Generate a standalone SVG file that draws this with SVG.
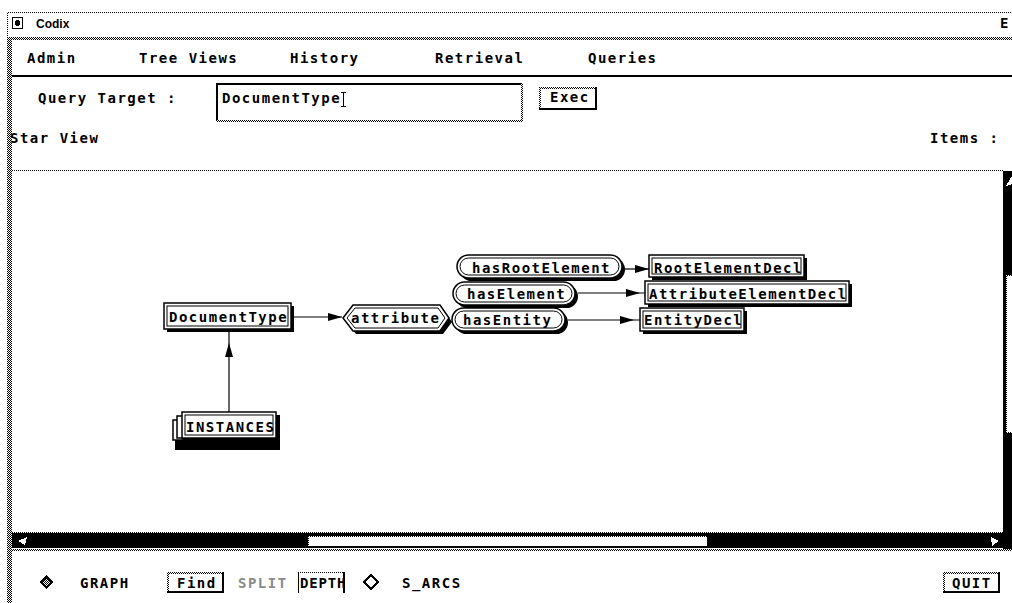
<svg xmlns="http://www.w3.org/2000/svg" width="1012" height="603" viewBox="0 0 1012 603">
<defs>
<pattern id="dit" width="2" height="2" patternUnits="userSpaceOnUse"><rect width="2" height="2" fill="#fff"/><rect width="1" height="1" fill="#000"/><rect x="1" y="1" width="1" height="1" fill="#000"/></pattern>
<marker id="arr" markerUnits="userSpaceOnUse" markerWidth="14" markerHeight="8" refX="14" refY="4" orient="auto"><path d="M0,0 L14,4 L0,8 z" fill="#000"/></marker>
<style>
.t{font-family:"DejaVu Sans Mono","Liberation Mono",monospace;font-weight:bold;font-size:14px;letter-spacing:1.5px;fill:#000}
.g{fill:#8a8a8a}
.d{fill:url(#dit)}
.k{fill:#000}
.box{fill:#fff;stroke:#000;stroke-width:1.5}
.in{fill:none;stroke:#000;stroke-width:1}
.sh{fill:#000}
.ln{fill:none;stroke:#000;stroke-width:1.2}
.ui{shape-rendering:crispEdges}
</style>
</defs>
<rect width="1012" height="603" fill="#fff"/>
<g id="window" class="ui">
<rect class="d" x="7" y="12" width="1005" height="1"/>
<rect class="d" x="7" y="12" width="1" height="25"/>
<rect class="d" x="7" y="37" width="1005" height="3"/>
<rect class="d" x="7" y="37" width="5" height="566"/>
<rect x="12.5" y="17.5" width="10" height="11" fill="#fff" stroke="#000"/>
<circle cx="17.5" cy="23" r="3" fill="#000"/>
<text x="36" y="28" style="font-family:'Liberation Sans',sans-serif;font-weight:bold;font-size:12px">Codix</text>
<text class="t" x="1000" y="28" style="letter-spacing:0">E</text>
<text class="t" x="27" y="63">Admin</text>
<text class="t" x="139" y="63">Tree Views</text>
<text class="t" x="290" y="63">History</text>
<text class="t" x="435" y="63">Retrieval</text>
<text class="t" x="588" y="63">Queries</text>
<rect class="k" x="12" y="75" width="1000" height="2"/>
<text class="t" x="38" y="103">Query Target :</text>
<rect class="k" x="216" y="83" width="307" height="2"/>
<rect class="k" x="216" y="83" width="2" height="39"/>
<rect class="d" x="521" y="83" width="2" height="39"/>
<rect class="d" x="216" y="120" width="307" height="2"/>
<text class="t" x="222" y="103">DocumentType</text>
<path d="M341,92 H346 M343.5,92 V106 M341,106 H346" stroke="#000" stroke-width="1" fill="none"/>
<rect class="d" x="539" y="87" width="58" height="2"/>
<rect class="d" x="539" y="87" width="2" height="23"/>
<rect class="k" x="595" y="87" width="2" height="23"/>
<rect class="k" x="539" y="108" width="58" height="2"/>
<text class="t" x="550" y="102">Exec</text>
<text class="t" x="10" y="143">Star View</text>
<text class="t" x="930" y="143">Items : </text>
<rect class="d" x="12" y="170" width="992" height="1"/>
<rect class="k" x="1003" y="171" width="9" height="378"/>
<rect x="1006" y="275" width="6" height="158" fill="#fff"/>
<rect class="d" x="1006" y="275" width="6" height="1"/>
<rect class="d" x="1006" y="275" width="1" height="158"/>
<rect class="d" x="1006" y="432" width="6" height="1"/>
<path d="M1006,186 L1012,176 L1012,184 z" fill="#fff"/>
<rect class="d" x="12" y="532" width="991" height="1"/>
<rect class="k" x="12" y="533" width="991" height="15"/>
<rect x="308" y="536" width="399" height="10" fill="#fff"/>
<rect class="d" x="308" y="536" width="399" height="1"/>
<rect class="d" x="308" y="536" width="1" height="10"/>
<path d="M18,541 L27,537 L25,545 z" fill="#fff"/>
<path d="M999,541 L991,537 L992,546 z" fill="#fff"/>
<rect class="d" x="12" y="549" width="1000" height="2"/>
<polygon points="46,575 53,582 46,589 39,582" fill="#000"/>
<polygon points="46,578 50,582 46,586 42,582" fill="url(#dit)"/>
<text class="t" x="80" y="588">GRAPH</text>
<rect class="d" x="167" y="572" width="57" height="2"/>
<rect class="d" x="167" y="572" width="2" height="21"/>
<rect class="k" x="222" y="572" width="2" height="21"/>
<rect class="k" x="167" y="591" width="57" height="2"/>
<text class="t" x="177" y="588">Find</text>
<text class="t g" x="238" y="588">SPLIT</text>
<rect class="d" x="298" y="572" width="46" height="1"/>
<rect class="k" x="298" y="572" width="1" height="21"/>
<rect class="k" x="343" y="572" width="2" height="21"/>
<text class="t" x="300" y="588" style="letter-spacing:0.8px">DEPTH</text>
<polygon points="371,575 378,582 371,589 364,582" fill="#fff" stroke="#000" stroke-width="2"/>
<text class="t" x="402" y="588">S_ARCS</text>
<rect class="d" x="943" y="572" width="57" height="2"/>
<rect class="d" x="943" y="572" width="2" height="21"/>
<rect class="k" x="998" y="572" width="2" height="21"/>
<rect class="k" x="943" y="591" width="57" height="2"/>
<text class="t" x="952" y="588">QUIT</text>
</g>
<g id="connectors">
<path class="ln" d="M291,317 L342,317" marker-end="url(#arr)"/>
<path class="ln" d="M229,412 L229,343 L229,329" marker-mid="url(#arr)"/>
<path class="ln" d="M625,269 L649,269" marker-end="url(#arr)"/>
<path class="ln" d="M578,293 L640,293 L645,293" marker-mid="url(#arr)"/>
<path class="ln" d="M568,320 L634,320 L640,320" marker-mid="url(#arr)"/>
</g>
<g id="node-DocumentType">
<rect class="sh" x="167" y="306" width="127" height="26"/>
<rect class="box" x="164" y="303" width="127" height="26"/>
<rect class="in" x="167" y="306" width="121" height="20"/>
<text class="t" x="169" y="322">DocumentType</text>
</g>
<g id="node-attribute">
<polygon class="sh" points="346,322 356,309 443,309 452,322 443,334 356,334"/>
<polygon class="box" points="343,318 353,305 440,305 449,318 440,331 353,331"/>
<polygon class="in" points="347,318 355,308 438,308 445,318 438,328 355,328"/>
<text class="t" x="351" y="323">attribute</text>
</g>
<g id="node-hasRootElement">
<rect class="sh" x="460" y="258" width="165" height="23" rx="11.5"/>
<rect class="box" x="457" y="255" width="165" height="23" rx="11.5"/>
<rect class="in" x="460" y="258" width="159" height="17" rx="8.5"/>
<text class="t" x="472" y="273">hasRootElement</text>
</g>
<g id="node-hasElement">
<rect class="sh" x="456" y="285" width="122" height="23" rx="11.5"/>
<rect class="box" x="453" y="282" width="122" height="23" rx="11.5"/>
<rect class="in" x="456" y="285" width="116" height="17" rx="8.5"/>
<text class="t" x="467" y="299">hasElement</text>
</g>
<g id="node-hasEntity">
<rect class="sh" x="455" y="311" width="113" height="23" rx="11.5"/>
<rect class="box" x="452" y="308" width="113" height="23" rx="11.5"/>
<rect class="in" x="455" y="311" width="107" height="17" rx="8.5"/>
<text class="t" x="463" y="325">hasEntity</text>
</g>
<g id="node-RootElementDecl">
<rect class="sh" x="652" y="258" width="155" height="22"/>
<rect class="box" x="649" y="255" width="155" height="22"/>
<rect class="in" x="652" y="258" width="149" height="16"/>
<text class="t" x="654" y="273">RootElementDecl</text>
</g>
<g id="node-AttributeElementDecl">
<rect class="sh" x="648" y="284" width="204" height="23"/>
<rect class="box" x="645" y="281" width="204" height="23"/>
<rect class="in" x="648" y="284" width="198" height="17"/>
<text class="t" x="649" y="299">AttributeElementDecl</text>
</g>
<g id="node-EntityDecl">
<rect class="sh" x="643" y="311" width="104" height="23"/>
<rect class="box" x="640" y="308" width="104" height="23"/>
<rect class="in" x="643" y="311" width="98" height="17"/>
<text class="t" x="644" y="325">EntityDecl</text>
</g>
<g id="node-INSTANCES">
<rect class="sh" x="175" y="437" width="105" height="13"/>
<rect class="sh" x="276" y="415" width="4" height="35"/>
<rect class="box" x="173" y="420" width="10" height="20"/>
<rect class="box" x="177" y="416" width="10" height="22"/>
<rect class="box" x="182" y="412" width="94" height="26"/>
<rect class="in" x="185" y="415" width="88" height="20"/>
<text class="t" x="186" y="432">INSTANCES</text>
</g>
</svg>
